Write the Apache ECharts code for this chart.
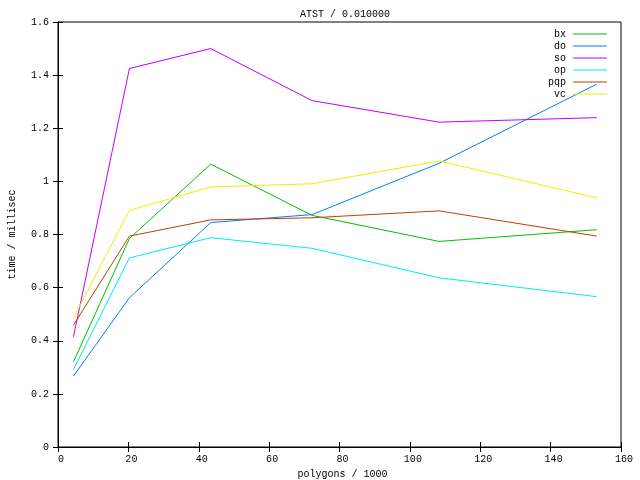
<!DOCTYPE html>
<html><head><meta charset="utf-8">
<script src="https://cdn.jsdelivr.net/npm/echarts@6/dist/echarts.min.js"></script>
<style>html,body{margin:0;padding:0;background:#fff}#c{width:640px;height:480px}</style>
</head><body><div id="c"></div>
<script>
var xs = [4.4, 20.3, 43.4, 72.2, 108.3, 153.1];
var seriesNames = ['bx', 'do', 'so', 'op', 'pqp', 'vc'];
var bx  = [0.321, 0.785, 1.065, 0.872, 0.774, 0.818];
var doV = [0.267, 0.562, 0.845, 0.875, 1.068, 1.366];
var so  = [0.415, 1.425, 1.500, 1.304, 1.223, 1.240];
var op  = [0.292, 0.712, 0.788, 0.748, 0.637, 0.566];
var pqp = [0.459, 0.794, 0.855, 0.863, 0.889, 0.794];
var vc  = [0.486, 0.891, 0.979, 0.991, 1.077, 0.938];
var colors = ['#00c000', '#0080ff', '#c000ff', '#00eeee', '#c04000', '#eeee00'];
var values = [bx, doV, so, op, pqp, vc];
var font = 'Liberation Mono';

var chart = echarts.init(document.getElementById('c'), null, {renderer: 'canvas'});
var series = seriesNames.map(function (n, i) {
  return {
    name: n, type: 'line', showSymbol: false, symbol: 'none', animation: false,
    color: colors[i],
    lineStyle: {width: 1, color: colors[i]},
    data: xs.map(function (x, j) { return [x, values[i][j]]; })
  };
});
var axisCommon = {
  axisLine: {show: true, lineStyle: {color: '#000', width: 1}},
  axisTick: {show: true, inside: true, length: 5, lineStyle: {color: '#000'}},
  splitLine: {show: false}
};
chart.setOption({
  animation: false,
  backgroundColor: '#fff',
  title: {text: 'ATST / 0.010000', left: 340, top: 4, textAlign: 'center',
    textStyle: {fontFamily: font, fontSize: 10, fontWeight: 'normal', color: '#000'}},
  grid: {left: 58, right: 19, top: 22, bottom: 33, show: true, borderColor: '#000', borderWidth: 1,
    containLabel: false, outerBoundsMode: 'none'},
  legend: {
    orient: 'vertical', right: 28, top: 23, align: 'right', icon: 'rect',
    itemWidth: 34, itemHeight: 1, itemGap: 0,
    textStyle: {fontFamily: font, fontSize: 10, color: '#000', lineHeight: 12, padding: [0, 2, 0, 0]},
    data: seriesNames
  },
  xAxis: [
    Object.assign({type: 'value', min: 0, max: 160, interval: 20, position: 'bottom',
      name: 'polygons / 1000', nameLocation: 'middle', nameGap: 16,
      nameTextStyle: {fontFamily: font, fontSize: 10, color: '#000', padding: [0, 0, 0, 6]},
      axisLabel: {fontFamily: font, fontSize: 10, color: '#000', margin: 7, padding: [0, 0, 0, 6]}}, axisCommon),
    Object.assign({type: 'value', min: 0, max: 160, interval: 20, position: 'top',
      axisLabel: {show: false}}, axisCommon)
  ],
  yAxis: [
    Object.assign({type: 'value', min: 0, max: 1.6, interval: 0.2, position: 'left',
      name: 'time / millisec', nameLocation: 'middle', nameGap: 41,
      nameTextStyle: {fontFamily: font, fontSize: 10, color: '#000'},
      axisLabel: {fontFamily: font, fontSize: 10, color: '#000', margin: 9,
        formatter: function (v) { return String(Math.round(v * 10) / 10); }}}, axisCommon),
    Object.assign({type: 'value', min: 0, max: 1.6, interval: 0.2, position: 'right',
      axisLabel: {show: false}}, axisCommon)
  ],
  series: series
});
</script></body></html>
